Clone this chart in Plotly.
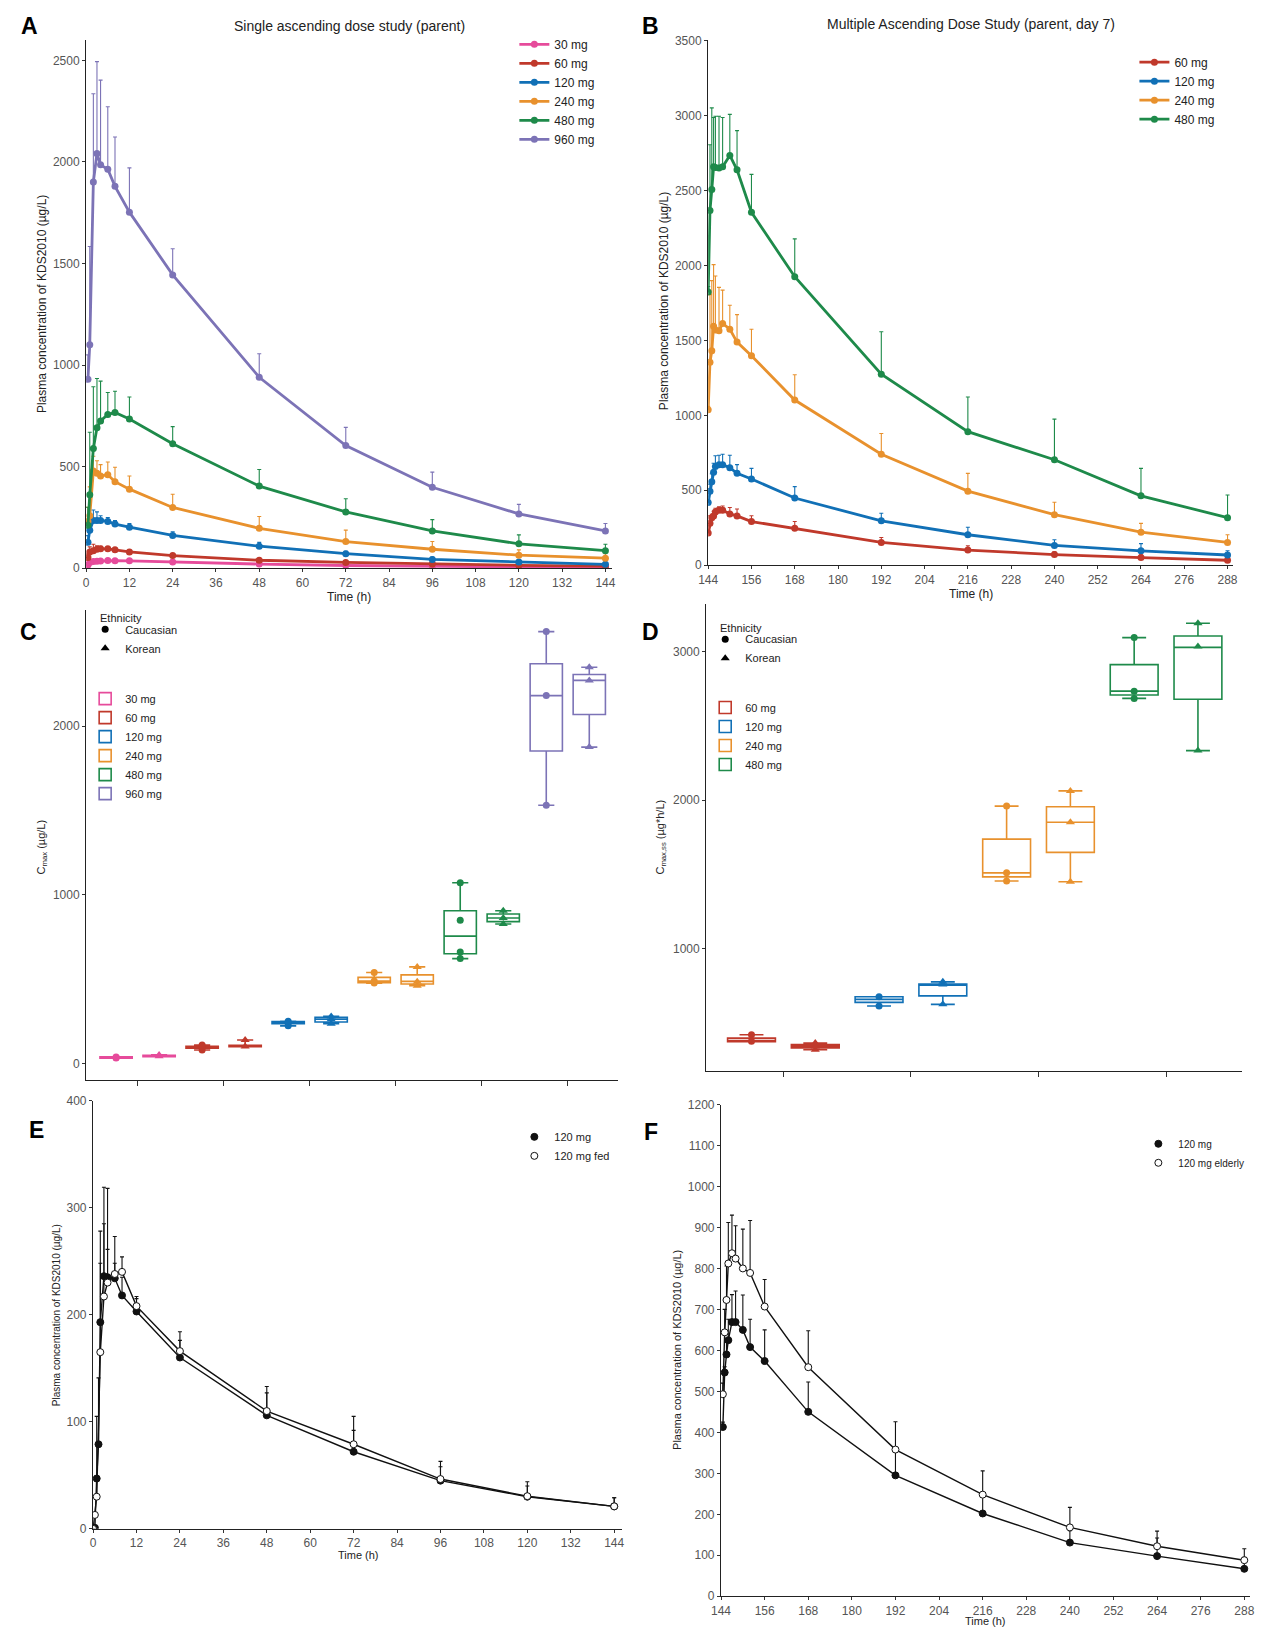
import plotly.graph_objects as go

W, H = 1265, 1633


def fx(p):
    return p / W


def fy(p):
    return 1 - p / H


FONT = "Liberation Sans, Arial, sans-serif"

# ---------------- Panel A data (single ascending dose) ----------------
a_time = [0.5, 1, 2, 3, 4, 6, 8, 12, 24, 48, 72, 96, 120, 144]
a_doses = ["30 mg", "60 mg", "120 mg", "240 mg", "480 mg", "960 mg"]
a_30 = [15, 28, 33, 34, 35, 38, 37, 36, 30, 20, 13, 8, 6, 4]
a_30_up = [20, 35, 42, 44, 43, 45, 44, 42, 36, 25, 17, 11, 8, 6]
a_60 = [52, 80, 86, 93, 95, 95, 90, 80, 62, 39, 28, 20, 14, 10]
a_60_up = [70, 105, 118, 110, 108, 105, 100, 90, 70, 46, 33, 24, 18, 13]
a_120 = [127, 187, 235, 235, 235, 230, 217, 202, 161, 108, 71, 43, 30, 19]
a_120_up = [160, 230, 286, 277, 258, 249, 235, 220, 179, 127, 83, 55, 40, 28]
a_240 = [230, 258, 478, 467, 454, 460, 426, 389, 299, 196, 131, 93, 64, 49]
a_240_up = [300, 400, 551, 529, 510, 523, 497, 454, 364, 254, 187, 131, 90, 71]
a_480 = [211, 361, 589, 691, 725, 757, 766, 734, 613, 404, 277, 183, 120, 86]
a_480_up = [300, 669, 893, 934, 921, 865, 871, 843, 697, 486, 342, 239, 164, 118]
a_960 = [930, 1100, 1902, 2042, 1986, 1964, 1880, 1753, 1444, 940, 604, 398, 267, 183]
a_960_up = [1050, 1584, 2336, 2494, 2403, 2272, 2123, 1971, 1573, 1056, 693, 473, 314, 220]

# ---------------- Panel B data (multiple ascending dose, day 7) ----------------
b_time = [144, 144.5, 145, 145.5, 146, 147, 148, 150, 152, 156, 168, 192, 216, 240, 264, 288]
b_doses = ["60 mg", "120 mg", "240 mg", "480 mg"]
b_60 = [215, 279, 317, 329, 355, 367, 367, 342, 329, 291, 246, 152, 101, 71, 51, 33]
b_60_up = [235, 330, 340, 360, 380, 390, 395, 385, 375, 330, 292, 185, 130, 90, 70, 50]
b_120 = [418, 494, 557, 620, 658, 671, 671, 651, 613, 575, 448, 296, 203, 132, 96, 68]
b_120_up = [440, 540, 610, 680, 730, 734, 740, 734, 671, 646, 524, 347, 253, 170, 144, 96]
b_240 = [1038, 1355, 1431, 1595, 1570, 1565, 1613, 1575, 1489, 1398, 1102, 740, 494, 337, 220, 152]
b_240_up = [1060, 1806, 1899, 2006, 1930, 1854, 1836, 1735, 1672, 1575, 1271, 879, 613, 420, 279, 203]
b_480 = [1823, 2368, 2507, 2659, 2655, 2650, 2659, 2735, 2639, 2355, 1925, 1274, 891, 704, 463, 317]
b_480_up = [1860, 2806, 3052, 2988, 2996, 2996, 2988, 3009, 2900, 2608, 2178, 1558, 1122, 975, 646, 468]

# ---------------- Panel C data (Cmax by ethnicity, SAD) ----------------
c_doses = ["30 mg", "60 mg", "120 mg", "240 mg", "480 mg", "960 mg"]
c_cau_q1 = [33, 92, 238, 480, 652, 1852]
c_cau_med = [37, 98, 244, 490, 756, 2180]
c_cau_q3 = [42, 104, 250, 512, 906, 2369]
c_cau_lo = [33, 82, 225, 478, 623, 1531]
c_cau_hi = [42, 111, 252, 541, 1072, 2559]
c_cau_pts = [[35, 37, 41], [82, 98, 111], [225, 244, 252], [478, 490, 541],
             [623, 662, 850, 1072], [1531, 2180, 2559]]
c_kor_q1 = [42, 101, 248, 473, 842, 2068]
c_kor_med = [47, 106, 264, 488, 863, 2270]
c_kor_q3 = [51, 110, 275, 527, 887, 2305]
c_kor_lo = [42, 101, 238, 463, 828, 1875]
c_kor_hi = [53, 141, 281, 574, 906, 2348]
c_kor_pts = [[45, 53], [102, 141], [238, 264, 281], [463, 486, 574],
             [828, 863, 906], [1875, 2270, 2348]]

# ---------------- Panel D data (Cmax,ss by ethnicity, MAD) ----------------
d_doses = ["60 mg", "120 mg", "240 mg", "480 mg"]
d_cau_q1 = [375, 640, 1484, 2707]
d_cau_med = [384, 660, 1511, 2733]
d_cau_q3 = [400, 678, 1738, 2911]
d_cau_lo = [375, 616, 1456, 2684]
d_cau_hi = [422, 678, 1960, 3093]
d_cau_pts = [[378, 422], [616, 678], [1456, 1511, 1960], [2684, 2733, 3093]]
d_kor_q1 = [333, 684, 1649, 2678]
d_kor_med = [344, 756, 1851, 3027]
d_kor_q3 = [356, 764, 1956, 3104]
d_kor_lo = [322, 627, 1451, 2333]
d_kor_hi = [367, 778, 2062, 3189]
d_kor_pts = [[322, 344, 367], [627, 760, 778], [1451, 1851, 2062], [2333, 3033, 3189]]

# ---------------- Panel E data (food effect) ----------------
e_time_fast = [0, 0.5, 1, 1.5, 2, 3, 4, 6, 8, 12, 24, 48, 72, 96, 120, 144]
e_fast = [0, 1, 47, 79, 193, 236, 235, 234, 218, 203, 160, 106, 72, 45, 30, 21]
e_fast_up = [0, 1, 105, 141, 278, 319, 318, 273, 235, 215, 176, 127, 92, 58, 40, 29]
e_time_fed = [0, 0.5, 1, 2, 3, 4, 6, 8, 12, 24, 48, 72, 96, 120, 144]
e_fed = [0, 13, 30, 165, 217, 230, 238, 240, 208, 166, 110, 79, 46.5, 30.5, 21]
e_fed_up = [0, 15, 45, 248, 285, 261, 248, 254, 217, 184, 133, 105, 63, 44, 29]

# ---------------- Panel F data (elderly) ----------------
f_time = [144.5, 145, 145.5, 146, 147, 148, 150, 152, 156, 168, 192, 216, 240, 264, 288]
f_young = [413, 546, 590, 625, 669, 669, 650, 608, 574, 450, 295, 202, 131, 98, 67]
f_young_up = [425, 560, 620, 676, 736, 745, 735, 676, 650, 523, 355, 245, 160, 142, 95]
f_old = [493, 644, 723, 812, 837, 824, 800, 789, 707, 559, 358, 248, 168, 122, 88]
f_old_up = [520, 700, 806, 912, 930, 904, 896, 917, 773, 648, 426, 306, 217, 159, 116]

COL = {"30 mg": "#E64B9B", "60 mg": "#C0392B", "120 mg": "#1170B6",
       "240 mg": "#E8912D", "480 mg": "#1E8A4A", "960 mg": "#7C73B6"}

fig = go.Figure()


def pk_trace(t, y, up, name, color, xa, ya, leg):
    return go.Scatter(
        x=t, y=y, mode="lines+markers", name=name, legendgroup=leg + name,
        line=dict(color=color, width=2.8),
        marker=dict(color=color, size=7),
        error_y=dict(type="data", symmetric=False,
                     array=[u - v for u, v in zip(up, y)],
                     arrayminus=[0] * len(y), color=color,
                     thickness=1.1, width=2),
        xaxis=xa, yaxis=ya, legend=leg)


# Panel A
for name, y, up in zip(a_doses, [a_30, a_60, a_120, a_240, a_480, a_960],
                       [a_30_up, a_60_up, a_120_up, a_240_up, a_480_up, a_960_up]):
    fig.add_trace(pk_trace(a_time, y, up, name, COL[name], "x", "y", "legend"))

# Panel B
for name, y, up in zip(b_doses, [b_60, b_120, b_240, b_480],
                       [b_60_up, b_120_up, b_240_up, b_480_up]):
    fig.add_trace(pk_trace(b_time, y, up, name, COL[name], "x2", "y2", "legend2"))


def box_panel(doses, cq1, cmed, cq3, clo, chi, cpts, kq1, kmed, kq3, klo, khi, kpts,
              xa, ya, leg_eth, leg_dose):
    fig.add_trace(go.Scatter(x=[None], y=[None], mode="markers", name="Caucasian",
                             legendgroup=leg_eth + "c",
                             marker=dict(color="black", size=7, symbol="circle"),
                             xaxis=xa, yaxis=ya, legend=leg_eth))
    fig.add_trace(go.Scatter(x=[None], y=[None], mode="markers", name="Korean",
                             legendgroup=leg_eth + "k",
                             marker=dict(color="black", size=8, symbol="triangle-up"),
                             xaxis=xa, yaxis=ya, legend=leg_eth))
    for i, d in enumerate(doses):
        c = COL[d]
        for off, q1, md, q3, lo, hi, pts, sym, show in [
                (-0.25, cq1, cmed, cq3, clo, chi, cpts, "circle", True),
                (0.25, kq1, kmed, kq3, klo, khi, kpts, "triangle-up", False)]:
            pos = i + 1 + off
            fig.add_trace(go.Box(
                x=[pos], q1=[q1[i]], median=[md[i]], q3=[q3[i]],
                lowerfence=[lo[i]], upperfence=[hi[i]], name=d,
                width=0.375, line=dict(color=c, width=1.6),
                fillcolor="rgba(255,255,255,0)", boxpoints=False,
                showlegend=show, legendgroup=leg_dose + d,
                xaxis=xa, yaxis=ya, legend=leg_dose))
            fig.add_trace(go.Scatter(
                x=[pos] * len(pts[i]), y=pts[i], mode="markers",
                marker=dict(color=c, size=7 if sym == "circle" else 8, symbol=sym),
                showlegend=False, xaxis=xa, yaxis=ya, hoverinfo="skip"))


box_panel(c_doses, c_cau_q1, c_cau_med, c_cau_q3, c_cau_lo, c_cau_hi, c_cau_pts,
          c_kor_q1, c_kor_med, c_kor_q3, c_kor_lo, c_kor_hi, c_kor_pts,
          "x3", "y3", "legend3", "legend4")
box_panel(d_doses, d_cau_q1, d_cau_med, d_cau_q3, d_cau_lo, d_cau_hi, d_cau_pts,
          d_kor_q1, d_kor_med, d_kor_q3, d_kor_lo, d_kor_hi, d_kor_pts,
          "x4", "y4", "legend5", "legend6")


def bw_trace(t, y, up, filled, xa, ya):
    return go.Scatter(
        x=t, y=y, mode="lines+markers", showlegend=False,
        line=dict(color="#111", width=1.4),
        marker=dict(color="#111" if filled else "white", size=7,
                    line=dict(color="#111", width=1)),
        error_y=dict(type="data", symmetric=False,
                     array=[u - v for u, v in zip(up, y)],
                     arrayminus=[0] * len(y), color="#111",
                     thickness=1.1, width=2),
        xaxis=xa, yaxis=ya)


def bw_legend(name, filled, xa, ya, leg):
    return go.Scatter(x=[None], y=[None], mode="markers", name=name, legendgroup=leg + name,
                      marker=dict(color="#111" if filled else "white", size=7,
                                  line=dict(color="#111", width=1)),
                      xaxis=xa, yaxis=ya, legend=leg)


# Panel E
fig.add_trace(bw_trace(e_time_fast, e_fast, e_fast_up, True, "x5", "y5"))
fig.add_trace(bw_trace(e_time_fed, e_fed, e_fed_up, False, "x5", "y5"))
fig.add_trace(bw_legend("120 mg", True, "x5", "y5", "legend7"))
fig.add_trace(bw_legend("120 mg fed", False, "x5", "y5", "legend7"))

# Panel F
fig.add_trace(bw_trace(f_time, f_young, f_young_up, True, "x6", "y6"))
fig.add_trace(bw_trace(f_time, f_old, f_old_up, False, "x6", "y6"))
fig.add_trace(bw_legend("120 mg", True, "x6", "y6", "legend8"))
fig.add_trace(bw_legend("120 mg elderly", False, "x6", "y6", "legend8"))

# ---------------- Axes ----------------
ax = dict(showgrid=False, zeroline=False, showline=True, linecolor="#222",
          linewidth=1.3, ticks="outside", ticklen=3, tickcolor="#333", tickwidth=1,
          tickfont=dict(size=12, color="#555", family=FONT))

fig.update_layout(
    xaxis=dict(ax, domain=[fx(77), fx(609)], range=[0, 145.9], tickvals=list(range(0, 145, 12)), anchor="y"),
    yaxis=dict(ax, domain=[fy(566), fy(33)], range=[0, 2602], dtick=500, anchor="x"),
    xaxis2=dict(ax, domain=[fx(706), fx(1237)], range=[144, 289.6], tickvals=list(range(144, 289, 12)), anchor="y2"),
    yaxis2=dict(ax, domain=[fy(563), fy(33)], range=[0, 3507], dtick=500, anchor="x2"),
    xaxis3=dict(ax, domain=[fx(77), fx(615)], range=[0.402, 6.586], tickvals=[1, 2, 3, 4, 5, 6],
                ticktext=[" "] * 6, ticklen=5, anchor="y3"),
    yaxis3=dict(ax, domain=[fy(1082), fy(608)], range=[-94, 2688], tickvals=[0, 1000, 2000], anchor="x3"),
    xaxis4=dict(ax, domain=[fx(704), fx(1246)], range=[0.395, 4.597], tickvals=[1, 2, 3, 4],
                ticktext=[" "] * 4, ticklen=5, anchor="y4"),
    yaxis4=dict(ax, domain=[fy(1073), fy(602)], range=[180, 3320], tickvals=[1000, 2000, 3000], anchor="x4"),
    xaxis5=dict(ax, domain=[fx(84), fx(619)], range=[0, 146.2], tickvals=list(range(0, 145, 12)), anchor="y5"),
    yaxis5=dict(ax, domain=[fy(1535), fy(1103)], range=[0, 400], dtick=100, anchor="x5"),
    xaxis6=dict(ax, domain=[fx(719), fx(1254)], range=[144, 289.6], tickvals=list(range(144, 289, 12)), anchor="y6"),
    yaxis6=dict(ax, domain=[fy(1603), fy(1107)], range=[0, 1200], dtick=100, anchor="x6"),
)

# ---------------- Legends ----------------
leg = dict(xanchor="left", yanchor="top", bgcolor="rgba(0,0,0,0)", borderwidth=0,
           font=dict(size=12, color="#222", family=FONT), tracegroupgap=0, itemwidth=30,
           traceorder="normal")
small = dict(size=11, color="#222", family=FONT)
fig.update_layout(
    showlegend=True,
    legend=dict(leg, x=fx(510), y=fy(23), tracegroupgap=2),
    legend2=dict(leg, x=fx(1137), y=fy(41), tracegroupgap=2),
    legend3=dict(leg, x=fx(76), y=fy(613), font=small),
    legend4=dict(leg, x=fx(76), y=fy(683), font=small),
    legend5=dict(leg, x=fx(703), y=fy(623), font=small),
    legend6=dict(leg, x=fx(703), y=fy(692), font=small),
    legend7=dict(leg, x=fx(510), y=fy(1125), font=small),
    legend8=dict(leg, x=fx(1141), y=fy(1132), font=dict(size=10, color="#222", family=FONT),
                 tracegroupgap=3),
)

# ---------------- Text annotations ----------------
ann = []


def text(x, y, s, size=12, angle=0, color="#222", anchor="center"):
    ann.append(dict(x=fx(x), y=fy(y), xref="paper", yref="paper", text=s,
                    showarrow=False, textangle=angle, xanchor=anchor, yanchor="middle",
                    font=dict(size=size, color=color, family=FONT)))


for lab, x, y in [("A", 20, 19), ("B", 648, 19), ("C", 19, 630), ("D", 648, 630),
                  ("E", 27, 1133), ("F", 648, 1135)]:
    text(x, y, "<b>" + lab + "</b>", size=23, color="black")

text(343, 19, "Single ascending dose study (parent)", size=14)
text(972, 17, "Multiple Ascending Dose Study (parent, day 7)", size=14)
text(33, 300, "Plasma concentration of KDS2010 (µg/L)", size=12, angle=-90)
text(662, 297, "Plasma concentration of KDS2010 (µg/L)", size=12, angle=-90)
text(343, 595, "Time (h)", size=12)
text(972, 592, "Time (h)", size=12)
text(89, 616, "Ethnicity", size=11, anchor="left")
text(716, 626, "Ethnicity", size=11, anchor="left")
text(32, 847, "C<sub>max</sub> (µg/L)", size=11, angle=-90)
text(658, 837, "C<sub>max,ss</sub> (µg*h/L)", size=11, angle=-90)
text(47, 1319, "Plasma concentration of KDS2010 (µg/L)", size=10, angle=-90)
text(352, 1561, "Time (h)", size=11)
text(675, 1355, "Plasma concentration of KDS2010 (µg/L)", size=11, angle=-90)
text(986, 1628, "Time (h)", size=11)

fig.update_layout(
    annotations=ann,
    width=W, height=H, margin=dict(l=0, r=0, t=0, b=0),
    paper_bgcolor="white", plot_bgcolor="white",
    font=dict(family=FONT, size=12, color="#222"),
)

fig.write_html("out.html", config={"displayModeBar": False},
               post_script="document.body.style.margin='0px';document.body.style.padding='0px';")
